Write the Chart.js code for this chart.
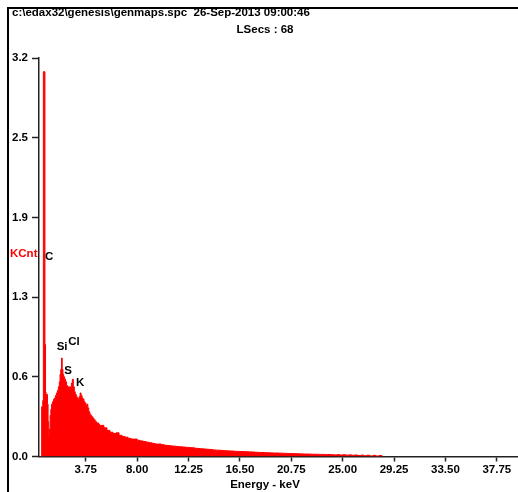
<!DOCTYPE html>
<html><head><meta charset="utf-8">
<script src="https://cdn.jsdelivr.net/npm/chart.js@4.4.1/dist/chart.umd.min.js"></script>
<style>
html,body{margin:0;padding:0;background:#fff;}
#wrap{position:relative;width:518px;height:492px;overflow:hidden;background:#fff;}
#frame{position:absolute;left:7px;top:7px;width:530px;height:500px;border-left:2.5px solid #000;border-top:2.5px solid #000;}
canvas{position:absolute;left:0;top:0;}
</style></head><body>
<div id="wrap"><div id="frame"></div><canvas id="c" width="518" height="492"></canvas></div>
<script>
const titleText = 'c:\\edax32\\genesis\\genmaps.spc  26-Sep-2013 09:00:46';
const subtitleText = 'LSecs : 68';
const xAxisTitle = 'Energy - keV';
const yAxisLabel = 'KCnt';

const energyKeV = [
  0.00, 0.10, 0.19, 0.24, 0.37, 0.42, 0.46, 0.52, 0.58, 0.63, 0.68, 0.74, 0.80, 0.86, 0.92,
  1.00, 1.08, 1.16, 1.24, 1.32, 1.40, 1.48, 1.56, 1.62, 1.68, 1.74, 1.80, 1.86, 1.92,
  2.00, 2.08, 2.16, 2.24, 2.32, 2.40, 2.48, 2.56, 2.64, 2.72, 2.80, 2.88, 2.96,
  3.04, 3.12, 3.20, 3.28, 3.36, 3.44, 3.52, 3.60, 3.68, 3.76, 3.84, 3.92,
  4.00, 4.08, 4.16, 4.24, 4.32, 4.40, 4.48, 4.56, 4.64, 4.72, 4.80, 4.88, 4.96,
  5.25, 5.50, 5.75, 6.00, 6.25, 6.50, 6.75, 7.00, 7.25, 7.50, 7.75, 8.00, 8.25, 8.50, 8.75,
  9.00, 9.25, 9.50, 9.75, 10.00, 10.25, 10.50, 10.75, 11.00, 11.25, 11.50, 11.75,
  12.00, 12.25, 12.50, 12.75, 13.00, 13.25, 13.50, 13.75, 14.00, 14.25, 14.50, 14.75,
  15.00, 15.25, 15.50, 15.75, 16.00, 16.25, 16.50, 16.75, 17.00, 17.25, 17.50, 17.75,
  18.00, 18.25, 18.50, 18.75, 19.00, 19.25, 19.50, 19.75, 20.00, 20.25, 20.50, 20.75,
  21.00, 21.25, 21.50, 21.75, 22.00, 22.25, 22.50, 22.75, 23.00, 23.25, 23.50, 23.75,
  24.00, 24.25, 24.50, 24.75, 25.00, 25.25, 25.50, 25.75, 26.00, 26.25, 26.50, 26.75,
  27.00, 27.25, 27.50, 27.75, 28.00, 28.25
];
const countsKCnt = [
  0.00, 0.40, 0.45, 3.09, 0.90, 0.52, 0.49, 0.50, 0.42, 0.28, 0.17, 0.22, 0.33, 0.38, 0.42,
  0.44, 0.46, 0.47, 0.49, 0.51, 0.53, 0.56, 0.60, 0.66, 0.70, 0.79, 0.70, 0.66, 0.64,
  0.62, 0.60, 0.57, 0.55, 0.56, 0.54, 0.56, 0.59, 0.62, 0.56, 0.52, 0.50, 0.48,
  0.47, 0.46, 0.48, 0.51, 0.49, 0.47, 0.46, 0.44, 0.43, 0.41, 0.42, 0.39,
  0.36, 0.34, 0.33, 0.32, 0.31, 0.30, 0.29, 0.28, 0.27, 0.27, 0.26, 0.25, 0.25,
  0.23, 0.21, 0.195, 0.185, 0.19, 0.17, 0.16, 0.155, 0.145, 0.14, 0.14, 0.13, 0.125, 0.12, 0.115,
  0.11, 0.105, 0.10, 0.10, 0.095, 0.09, 0.088, 0.085, 0.083, 0.08, 0.078, 0.076,
  0.074, 0.072, 0.07, 0.066, 0.064, 0.062, 0.06, 0.058, 0.056, 0.053, 0.051, 0.05,
  0.048, 0.046, 0.045, 0.044, 0.042, 0.041, 0.04, 0.039, 0.038, 0.037, 0.036, 0.034,
  0.033, 0.032, 0.031, 0.03, 0.029, 0.028, 0.028, 0.027, 0.026, 0.025, 0.024, 0.024,
  0.023, 0.022, 0.021, 0.02, 0.02, 0.019, 0.018, 0.018, 0.017, 0.017, 0.016, 0.016,
  0.015, 0.013, 0.015, 0.012, 0.014, 0.011, 0.013, 0.01, 0.012, 0.008, 0.011, 0.006,
  0.01, 0.005, 0.009, 0.004, 0.008, 0.0
];

const xTickValues = [3.75, 8.00, 12.25, 16.50, 20.75, 25.00, 29.25, 33.50, 37.75];
const xTickLabels = ['3.75', '8.00', '12.25', '16.50', '20.75', '25.00', '29.25', '33.50', '37.75'];
const yTickValues = [0, 0.64, 1.28, 1.92, 2.56, 3.2];
const yTickLabels = ['0.0', '0.6', '1.3', '1.9', '2.5', '3.2'];

const peakNames = ['C', 'Si', 'Cl', 'S', 'K'];
const peakLabelKeV = [0.71, 1.79, 2.78, 2.28, 3.28];
const peakLabelKCnt = [1.60, 0.88, 0.92, 0.69, 0.59];

const FONT = '"Liberation Sans", Arial, sans-serif';
const FS = 11.5;

const labelPlugin = {
  id: 'peakLabels',
  afterDraw(chart) {
    const ctx = chart.ctx;
    const xs = chart.scales.x, ys = chart.scales.y;
    ctx.save();
    ctx.font = 'bold ' + FS + 'px ' + FONT;
    ctx.textAlign = 'center';
    ctx.textBaseline = 'middle';
    ctx.fillStyle = '#000';
    peakNames.forEach((n, i) => {
      ctx.fillText(n, xs.getPixelForValue(peakLabelKeV[i]), ys.getPixelForValue(peakLabelKCnt[i]));
    });
    ctx.fillText(xAxisTitle, 265, 485);
    ctx.fillStyle = '#ff0000';
    ctx.textAlign = 'left';
    ctx.fillText(yAxisLabel, 10, 254);
    ctx.restore();
  }
};

new Chart(document.getElementById('c'), {
  type: 'line',
  data: {
    datasets: [{
      data: energyKeV.map((e, i) => ({x: e, y: countsKCnt[i]})),
      stepped: true,
      fill: 'origin',
      backgroundColor: '#ff0000',
      borderColor: '#ff0000',
      borderWidth: 1,
      pointRadius: 0,
      tension: 0
    }]
  },
  options: {
    responsive: false,
    devicePixelRatio: 1,
    animation: false,
    layout: {padding: {left: 12, top: 0, right: 0, bottom: 0}},
    plugins: {
      legend: {display: false},
      tooltip: {enabled: false},
      title: {
        display: true, text: titleText, align: 'start', color: '#000',
        font: {family: FONT, size: FS, weight: 'bold'},
        padding: {top: 6.1, bottom: 0}
      },
      subtitle: {
        display: true, text: subtitleText, align: 'center', color: '#000',
        font: {family: FONT, size: FS, weight: 'bold'},
        padding: {top: 2.7, bottom: 21.6}
      }
    },
    scales: {
      x: {
        type: 'linear', min: -0.12, max: 39.5, z: 1,
        afterFit: s => { s.height = 35.5; },
        afterBuildTicks: s => { s.ticks = xTickValues.map(v => ({value: v})); },
        ticks: {
          color: '#000', padding: 1.6, maxRotation: 0, autoSkip: false,
          font: {family: FONT, size: FS, weight: 'bold'},
          callback: (v, i) => xTickLabels[i]
        },
        grid: {drawOnChartArea: false, drawTicks: true, tickLength: 5, tickColor: '#222', tickWidth: 1.5},
        border: {display: true, color: '#222', width: 1.5},
        title: {display: false}
      },
      y: {
        type: 'linear', min: 0, max: 3.2, z: 1,
        afterFit: s => { s.width = 27; },
        afterBuildTicks: s => { s.ticks = yTickValues.map(v => ({value: v})); },
        ticks: {
          color: '#000', padding: 4, autoSkip: false,
          font: {family: FONT, size: FS, weight: 'bold'},
          callback: (v, i) => yTickLabels[i]
        },
        grid: {drawOnChartArea: false, drawTicks: true, tickLength: 7, tickColor: '#222', tickWidth: 1.5},
        border: {display: true, color: '#222', width: 1.5}
      }
    }
  },
  plugins: [labelPlugin]
});
</script>
</body></html>
